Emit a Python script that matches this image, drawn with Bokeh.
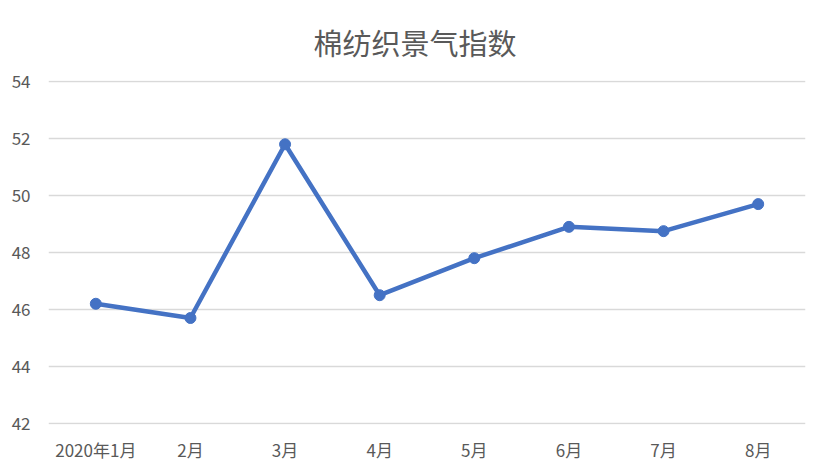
from bokeh.plotting import figure
from bokeh.models import FixedTicker, Range1d, FactorRange
from bokeh.embed import file_html
from bokeh.resources import INLINE

title_text = "棉纺织景气指数"
months = ["2020年1月", "2月", "3月", "4月", "5月", "6月", "7月", "8月"]
values = [46.2, 45.7, 51.8, 46.5, 47.8, 48.9, 48.75, 49.7]
y_ticks = [42, 44, 46, 48, 50, 52, 54]

FONT = "Noto Sans CJK SC"
GRAY = "#595959"

p = figure(width=829, height=474, output_backend="svg", toolbar_location=None,
           x_range=FactorRange(*months, range_padding=0),
           y_range=Range1d(41.96, 54.04),
           min_border_left=48, min_border_right=24,
           min_border_top=80, min_border_bottom=50)

p.title.text = title_text
p.title.align = "left"
p.title.vertical_align = "middle"
p.title.text_font = FONT
p.title.text_font_size = "29px"
p.title.text_font_style = "normal"
p.title.text_color = GRAY
p.title.standoff = 34
p.title.offset = 265

p.line(months, values, line_color="#4472C4", line_width=4.5)
p.scatter(months, values, size=11, fill_color="#4472C4", line_color="#4472C4")

p.yaxis.ticker = FixedTicker(ticks=y_ticks)
for ax in (p.xaxis, p.yaxis):
    ax.axis_line_color = None
    ax.major_tick_line_color = None
    ax.minor_tick_line_color = None
    ax.major_label_text_font = FONT
    ax.major_label_text_font_size = "17px"
    ax.major_label_text_color = GRAY
p.yaxis.major_label_standoff = 12
p.xaxis.major_label_standoff = 6

p.xgrid.grid_line_color = None
p.ygrid.grid_line_color = "#d9d9d9"
p.ygrid.grid_line_width = 1.5
p.outline_line_color = None

open("out.html", "w").write(file_html(p, INLINE))
